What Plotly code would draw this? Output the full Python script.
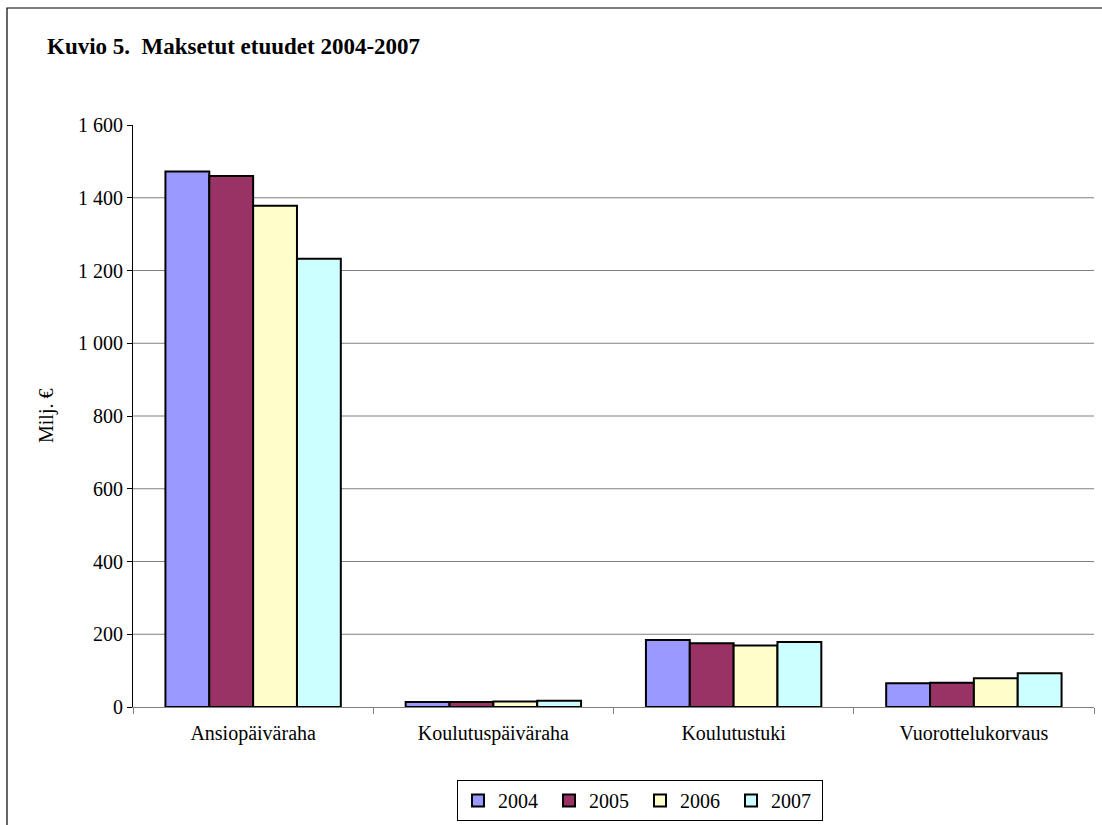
import plotly.graph_objects as go

categories = ["Ansiopäiväraha", "Koulutuspäiväraha", "Koulutustuki", "Vuorottelukorvaus"]
years = ["2004", "2005", "2006", "2007"]
values_2004 = [1472, 14, 184, 65]
values_2005 = [1460, 14, 175, 67]
values_2006 = [1378, 15, 169, 79]
values_2007 = [1232, 17, 179, 93]
series = [values_2004, values_2005, values_2006, values_2007]
colors = ["#9999FF", "#993366", "#FFFFCC", "#CCFFFF"]
y_ticks = [0, 200, 400, 600, 800, 1000, 1200, 1400, 1600]
y_tick_text = ["0", "200", "400", "600", "800", "1 000", "1 200", "1 400", "1 600"]

FONT = "Liberation Serif"
W, H = 1102, 825
L, R, T, B = 133, 8, 125, 118
pw, ph = W - L - R, H - T - B

def px(x):
    return (x - L) / pw

def py(y):
    return (H - B - y) / ph

fig = go.Figure()
for yr, vals, col in zip(years, series, colors):
    fig.add_trace(go.Bar(
        x=categories, y=vals, name=yr,
        marker=dict(color=col, line=dict(color="black", width=2)),
    ))

shapes = []
for v in y_ticks[1:-1]:
    shapes.append(dict(type="line", xref="paper", yref="y", x0=0, x1=1, y0=v, y1=v,
                       line=dict(color="#808080", width=1), layer="below"))
# outer chart frame
shapes.append(dict(type="rect", xref="paper", yref="paper",
                   x0=px(7), x1=px(1140), y0=-0.4, y1=py(8),
                   line=dict(color="black", width=1.2)))

fig.update_layout(
    width=W, height=H,
    margin=dict(l=L, r=R, t=T, b=B, autoexpand=False),
    paper_bgcolor="white", plot_bgcolor="white",
    font=dict(family=FONT, size=20, color="black"),
    barmode="group", bargap=0.27, bargroupgap=0,
    shapes=shapes,
    showlegend=True,
    legend=dict(orientation="h", x=px(640), xanchor="center", y=-73 / ph, yanchor="top",
                bordercolor="black", borderwidth=1, font=dict(family=FONT, size=20),
                traceorder="normal", entrywidth=46, itemwidth=30),
    annotations=[
        dict(text="<b>Kuvio 5.\u00a0\u00a0Maksetut etuudet 2004-2007</b>", xref="paper", yref="paper",
             x=px(45), y=py(46), xanchor="left", yanchor="middle", showarrow=False,
             font=dict(family=FONT, size=23)),
        dict(text="Milj. €", xref="paper", yref="paper", x=px(46), y=py(416),
             xanchor="center", yanchor="middle", showarrow=False, textangle=-90,
             font=dict(family=FONT, size=20)),
    ],
)
fig.update_xaxes(showline=True, linecolor="#808080", linewidth=1,
                 ticks="outside", tickson="boundaries", ticklen=6, tickcolor="#808080",
                 showgrid=False, tickfont=dict(size=20), ticklabelstandoff=8,
                 automargin=False, fixedrange=True)
fig.update_yaxes(range=[0, 1600], tickvals=y_ticks, ticktext=y_tick_text,
                 showline=True, linecolor="black", linewidth=1,
                 ticks="outside", ticklen=5, tickcolor="black",
                 showgrid=False, zeroline=False, tickfont=dict(size=20),
                 automargin=False, fixedrange=True)

fig.write_html("out.html", config={"displayModeBar": False},
               post_script="document.body.style.margin='0';document.body.style.overflow='hidden';")
